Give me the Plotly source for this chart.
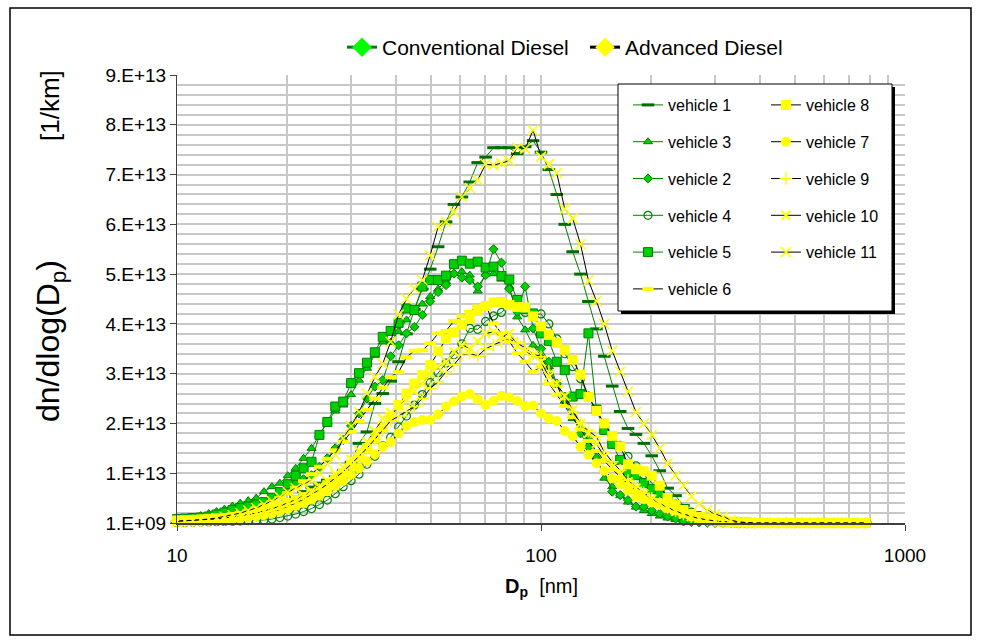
import plotly.graph_objects as go

# ---------------- data (particle diameter in nm, values in units of 1e12 per km) ----------------
dp_nm = [10.0, 10.51, 11.05, 11.62, 12.22, 12.84, 13.50, 14.20, 14.92, 15.69,
         16.50, 17.34, 18.23, 19.17, 20.15, 21.19, 22.27, 23.42, 24.62, 25.88,
         27.21, 28.61, 30.08, 31.62, 33.25, 34.95, 36.75, 38.63, 40.62, 42.70,
         44.89, 47.20, 49.62, 52.17, 54.84, 57.66, 60.62, 63.73, 67.00, 70.44,
         74.06, 77.86, 81.85, 86.05, 90.47, 95.12, 100.0, 105.1, 110.5, 116.2,
         122.2, 128.4, 135.0, 142.0, 149.2, 156.9, 165.0, 173.4, 182.3, 191.7,
         201.5, 211.9, 222.7, 234.2, 246.2, 258.8, 272.1, 286.1, 300.8, 316.2,
         332.5, 349.5, 367.5, 386.3, 406.2, 427.0, 448.9, 472.0, 496.2, 521.7,
         548.4, 576.6, 606.2, 637.3, 670.0, 704.4, 740.6, 778.6]

UNIT = 1e12

vehicle_1 = [0.2, 0.3, 0.3, 0.4, 0.5, 0.6, 0.7, 0.9, 1.1, 1.4,
             1.8, 2.2, 2.8, 3.5, 4.3, 5.3, 6.3, 7.2, 8.0, 8.6,
             9.3, 10.5, 12.2, 16.0, 18.3, 24.0, 26.0, 28.5, 32.4, 38.0,
             42.9, 47.0, 51.0, 55.5, 60.5, 64.0, 65.5, 68.5, 72.4, 73.5,
             75.4, 75.4, 75.4, 74.2, 75.6, 76.8, 74.5, 71.0, 66.0, 60.0,
             54.5, 50.0, 44.5, 39.0, 33.5, 27.5, 22.4, 19.0, 17.8, 16.0,
             13.5, 10.5, 7.0, 5.5, 3.5, 2.0, 1.0, 0.6, 0.3, 0.15,
             0.08, 0.04, 0.001, 0.001, 0.001, 0.001, 0.001, 0.001, 0.001, 0.001,
             0.001, 0.001, 0.001, 0.001, 0.001, 0.001, 0.001, 0.001]

vehicle_3 = [0.9, 1.0, 1.2, 1.5, 1.9, 2.3, 2.8, 3.4, 4.0, 4.5,
             5.0, 6.3, 7.3, 8.0, 9.5, 11.0, 13.0, 15.0, 17.7, 20.3,
             22.5, 23.7, 25.8, 28.7, 31.1, 33.7, 36.4, 36.3, 38.5, 40.8,
             42.5, 44.0, 45.5, 47.0, 48.5, 50.1, 50.5, 49.8, 46.6, 50.0,
             50.1, 49.0, 47.5, 41.4, 38.8, 35.7, 33.5, 31.4, 27.7, 24.5,
             21.0, 19.0, 17.2, 13.3, 9.0, 7.3, 5.5, 4.2, 3.2, 2.5,
             1.9, 1.4, 1.0, 0.7, 0.5, 0.3, 0.2, 0.1, 0.05, 0.001,
             0.001, 0.001, 0.001, 0.001, 0.001, 0.001, 0.001, 0.001, 0.001, 0.001,
             0.001, 0.001, 0.001, 0.001, 0.001, 0.001, 0.001, 0.001]

vehicle_2 = [0.3, 0.35, 0.4, 0.5, 0.6, 0.8, 1.0, 1.3, 1.7, 2.2,
             2.8, 3.5, 4.4, 5.5, 6.7, 8.0, 8.8, 9.6, 11.3, 13.0,
             15.0, 16.7, 19.5, 22.0, 25.0, 27.4, 28.7, 33.5, 35.7, 38.1,
             39.4, 41.8, 44.5, 46.4, 47.8, 50.1, 49.3, 48.8, 47.5, 49.8,
             55.0, 52.3, 47.0, 42.4, 47.5, 39.1, 35.0, 32.4, 28.0, 25.4,
             21.5, 18.0, 15.3, 12.0, 10.3, 6.3, 5.6, 4.6, 3.3, 3.3,
             2.5, 1.9, 1.3, 0.9, 0.3, 0.2, 0.1, 0.05, 0.001, 0.001,
             0.001, 0.001, 0.001, 0.001, 0.001, 0.001, 0.001, 0.001, 0.001, 0.001,
             0.001, 0.001, 0.001, 0.001, 0.001, 0.001, 0.001, 0.001]

vehicle_4 = [0.1, 0.1, 0.15, 0.2, 0.2, 0.25, 0.3, 0.35, 0.4, 0.45,
             0.5, 0.6, 0.8, 1.1, 1.4, 1.8, 2.3, 2.9, 3.7, 4.6,
             5.9, 7.3, 8.5, 9.8, 11.8, 13.4, 15.5, 17.2, 19.3, 21.5,
             23.7, 25.8, 28.2, 30.2, 32.1, 33.8, 36.0, 39.1, 38.9, 40.5,
             41.6, 42.3, 43.8, 43.5, 42.3, 41.8, 42.0, 40.0, 37.0, 34.0,
             31.4, 29.0, 25.5, 22.5, 20.0, 17.5, 15.6, 13.4, 11.5, 9.7,
             8.0, 6.3, 4.6, 3.8, 2.9, 2.2, 1.5, 0.9, 0.5, 0.3,
             0.2, 0.1, 0.05, 0.001, 0.001, 0.001, 0.001, 0.001, 0.001, 0.001,
             0.001, 0.001, 0.001, 0.001, 0.001, 0.001, 0.001, 0.001]

vehicle_5 = [0.8, 0.9, 1.0, 1.1, 1.3, 1.7, 2.1, 2.6, 3.0, 3.3,
             3.7, 4.2, 5.0, 6.2, 7.8, 9.5, 11.0, 12.3, 17.7, 20.3,
             23.4, 24.4, 28.1, 30.1, 32.2, 34.3, 37.4, 38.6, 40.2, 43.1,
             42.8, 47.5, 48.8, 48.8, 49.7, 52.0, 52.7, 52.1, 52.5, 51.3,
             51.5, 49.6, 48.9, 44.8, 43.0, 42.1, 38.1, 36.6, 32.4, 30.7,
             25.4, 25.9, 38.1, 22.8, 18.7, 15.9, 12.7, 10.1, 9.6, 8.0,
             6.8, 6.0, 4.3, 3.0, 2.3, 1.6, 0.9, 0.6, 0.4, 0.3,
             0.2, 0.1, 0.05, 0.001, 0.001, 0.001, 0.001, 0.001, 0.001, 0.001,
             0.001, 0.001, 0.001, 0.001, 0.001, 0.001, 0.001, 0.001]

vehicle_6 = [0.6, 0.7, 0.8, 0.9, 1.0, 1.2, 1.4, 1.7, 2.0, 2.4,
             2.9, 3.5, 4.2, 5.0, 6.0, 7.1, 8.4, 9.8, 11.3, 12.9,
             14.6, 16.3, 18.3, 20.5, 22.7, 25.0, 27.2, 29.3, 30.3, 33.3,
             34.6, 34.7, 36.1, 38.1, 38.6, 40.6, 41.5, 42.4, 43.5, 43.8,
             40.1, 38.1, 36.5, 34.1, 32.4, 30.4, 31.4, 28.0, 25.8, 23.5,
             21.3, 18.8, 16.5, 14.5, 12.5, 10.8, 9.2, 7.8, 6.5, 5.4,
             4.4, 3.5, 2.8, 2.2, 1.7, 1.2, 0.9, 0.6, 0.4, 0.3,
             0.2, 0.1, 0.05, 0.001, 0.001, 0.001, 0.001, 0.001, 0.001, 0.001,
             0.001, 0.001, 0.001, 0.001, 0.001, 0.001, 0.001, 0.001]

vehicle_8 = [0.5, 0.55, 0.6, 0.7, 0.8, 0.9, 1.0, 1.2, 1.4, 1.7,
             2.0, 2.4, 2.9, 3.4, 4.0, 4.6, 5.2, 5.8, 6.3, 7.6,
             8.7, 10.0, 11.8, 13.2, 15.0, 17.0, 19.2, 21.3, 23.7, 26.0,
             28.0, 29.7, 31.7, 34.5, 37.0, 38.3, 39.8, 41.0, 42.6, 43.6,
             44.3, 44.4, 43.8, 43.4, 43.3, 41.5, 39.5, 37.8, 36.2, 34.8,
             32.8, 29.8, 25.3, 22.5, 20.0, 17.5, 15.4, 11.8, 10.8, 10.4,
             9.5, 7.5, 5.0, 3.6, 2.6, 1.8, 1.2, 0.8, 0.5, 0.3,
             0.2, 0.1, 0.05, 0.001, 0.001, 0.001, 0.001, 0.001, 0.001, 0.001,
             0.001, 0.001, 0.001, 0.001, 0.001, 0.001, 0.001, 0.001]

vehicle_7 = [0.2, 0.25, 0.3, 0.35, 0.4, 0.5, 0.6, 0.7, 0.9, 1.1,
             1.3, 1.6, 1.9, 2.3, 2.8, 3.4, 4.0, 4.7, 5.5, 6.4,
             7.4, 8.5, 9.7, 11.0, 12.4, 13.8, 15.3, 16.3, 18.0, 19.5,
             20.3, 20.7, 20.7, 21.8, 23.4, 24.4, 25.4, 25.9, 24.8, 23.7,
             24.5, 25.5, 25.2, 24.5, 23.5, 23.6, 22.0, 21.0, 20.5, 18.5,
             17.5, 15.3, 13.7, 12.0, 10.5, 9.0, 7.8, 6.6, 5.3, 4.8,
             4.1, 3.8, 3.0, 2.5, 1.9, 1.3, 0.9, 0.6, 0.4, 0.3,
             0.2, 0.1, 0.05, 0.001, 0.001, 0.001, 0.001, 0.001, 0.001, 0.001,
             0.001, 0.001, 0.001, 0.001, 0.001, 0.001, 0.001, 0.001]

vehicle_9 = [0.3, 0.35, 0.4, 0.45, 0.5, 0.6, 0.7, 0.85, 1.0, 1.2,
             1.5, 1.8, 2.2, 2.7, 3.3, 4.0, 4.8, 5.7, 6.7, 7.8,
             9.0, 10.3, 11.8, 13.3, 15.0, 16.8, 18.6, 20.5, 21.5, 22.4,
             23.4, 25.0, 27.0, 28.4, 30.4, 31.8, 33.7, 34.1, 33.5, 35.0,
             35.7, 36.5, 37.0, 36.1, 35.2, 34.0, 33.4, 30.5, 27.5, 24.8,
             22.4, 20.0, 18.5, 17.3, 14.3, 12.3, 10.6, 8.6, 7.2, 6.0,
             4.9, 3.9, 3.1, 2.4, 1.8, 1.3, 0.9, 0.6, 0.4, 0.3,
             0.2, 0.1, 0.05, 0.001, 0.001, 0.001, 0.001, 0.001, 0.001, 0.001,
             0.001, 0.001, 0.001, 0.001, 0.001, 0.001, 0.001, 0.001]

vehicle_10 = [0.4, 0.45, 0.5, 0.6, 0.7, 0.8, 1.0, 1.2, 1.4, 1.7,
              2.0, 2.4, 2.9, 3.4, 4.0, 4.7, 5.5, 6.4, 7.4, 8.5,
              9.8, 11.2, 12.8, 14.5, 16.3, 18.5, 21.0, 22.2, 23.8, 24.7,
              26.5, 28.0, 30.0, 31.4, 32.4, 34.4, 35.7, 35.1, 36.5, 38.1,
              38.4, 37.4, 38.1, 35.7, 34.4, 33.7, 32.4, 29.4, 28.0, 25.5,
              22.7, 20.0, 18.0, 16.0, 13.3, 11.3, 9.8, 8.3, 7.0, 5.8,
              4.8, 3.9, 3.1, 2.4, 1.8, 1.3, 0.9, 0.6, 0.4, 0.3,
              0.2, 0.1, 0.05, 0.001, 0.001, 0.001, 0.001, 0.001, 0.001, 0.001,
              0.001, 0.001, 0.001, 0.001, 0.001, 0.001, 0.001, 0.001]

vehicle_11 = [0.3, 0.4, 0.5, 0.6, 0.8, 1.0, 1.3, 1.6, 2.0, 2.5,
              3.0, 3.7, 4.4, 5.2, 6.2, 7.0, 7.8, 8.6, 10.0, 11.8,
              13.7, 17.0, 19.5, 22.3, 26.0, 29.3, 32.0, 36.4, 41.9, 45.0,
              47.1, 48.8, 53.8, 59.5, 60.5, 62.5, 65.5, 67.3, 68.9, 72.1,
              71.9, 72.3, 72.8, 75.4, 75.2, 78.9, 73.6, 72.1, 70.3, 63.1,
              61.2, 56.0, 48.7, 44.6, 40.0, 34.6, 30.4, 26.4, 22.3, 20.0,
              17.7, 15.0, 12.0, 9.6, 7.6, 5.3, 3.8, 2.6, 1.8, 1.3,
              0.6, 0.2, 0.05, 0.001, 0.001, 0.001, 0.001, 0.001, 0.001, 0.001,
              0.001, 0.001, 0.001, 0.001, 0.001, 0.001, 0.001, 0.001]

y_tick_vals = [1e9, 1e13, 2e13, 3e13, 4e13, 5e13, 6e13, 7e13, 8e13, 9e13]
y_tick_text = ["1.E+09", "1.E+13", "2.E+13", "3.E+13", "4.E+13", "5.E+13",
               "6.E+13", "7.E+13", "8.E+13", "9.E+13"]
x_tick_vals = [10, 100, 1000]
x_tick_text = ["10", "100", "1000"]

# ---------------- styling ----------------
FONT = "Liberation Sans, Arial, sans-serif"
CONV_LINE = "#008000"
ADV_LINE = "#000000"
GREEN_FILL = "#00D000"
DARK_GREEN = "#006E00"
YELLOW = "#FFFF00"

series = [
    ("vehicle 1", vehicle_1, "legend", CONV_LINE,
     dict(symbol="line-ew", size=9, color=DARK_GREEN, line=dict(width=3, color=DARK_GREEN))),
    ("vehicle 3", vehicle_3, "legend", CONV_LINE,
     dict(symbol="triangle-up", size=8, color=GREEN_FILL, line=dict(width=1, color=CONV_LINE))),
    ("vehicle 2", vehicle_2, "legend", CONV_LINE,
     dict(symbol="diamond", size=7, color=GREEN_FILL, line=dict(width=1, color=CONV_LINE))),
    ("vehicle 4", vehicle_4, "legend", CONV_LINE,
     dict(symbol="circle-open", size=8, color=CONV_LINE, line=dict(width=1.2, color=CONV_LINE))),
    ("vehicle 5", vehicle_5, "legend", CONV_LINE,
     dict(symbol="square", size=9, color=GREEN_FILL, line=dict(width=1, color=CONV_LINE))),
    ("vehicle 6", vehicle_6, "legend", ADV_LINE,
     dict(symbol="line-ew", size=8, color=YELLOW, line=dict(width=4, color=YELLOW))),
    ("vehicle 8", vehicle_8, "legend2", ADV_LINE,
     dict(symbol="square", size=10, color=YELLOW, line=dict(width=0, color=YELLOW))),
    ("vehicle 7", vehicle_7, "legend2", ADV_LINE,
     dict(symbol="circle", size=10, color=YELLOW, line=dict(width=0, color=YELLOW))),
    ("vehicle 9", vehicle_9, "legend2", ADV_LINE,
     dict(symbol="cross-thin", size=9, color=YELLOW, line=dict(width=1.5, color=YELLOW))),
    ("vehicle 10", vehicle_10, "legend2", ADV_LINE,
     dict(symbol="x-thin", size=9, color=YELLOW, line=dict(width=2, color=YELLOW))),
    ("vehicle 11", vehicle_11, "legend2", ADV_LINE,
     dict(symbol="x-thin", size=10, color=YELLOW, line=dict(width=1.5, color=YELLOW))),
]

fig = go.Figure()
for name, vals, leg, lcol, mk in series:
    fig.add_trace(go.Scatter(
        x=dp_nm, y=[v * UNIT for v in vals], mode="lines+markers", name=name,
        line=dict(color=lcol, width=1), marker=mk, legend=leg, legendgroup=name,
        cliponaxis=False, hoverinfo="skip"))

# legend-only entries for the top legend
fig.add_trace(go.Scatter(x=[None], y=[None], mode="lines+markers", name="Conventional Diesel",
                         line=dict(color=CONV_LINE, width=3),
                         marker=dict(symbol="diamond", size=15, color="#00FF00", line=dict(width=0)),
                         legend="legend3"))
fig.add_trace(go.Scatter(x=[None], y=[None], mode="lines+markers", name="Advanced Diesel",
                         line=dict(color=ADV_LINE, width=3),
                         marker=dict(symbol="diamond", size=15, color=YELLOW, line=dict(width=0)),
                         legend="legend4"))

L, R, T, B = 177, 77, 75, 118
W, H = 982, 641
PW, PH = W - L - R, H - T - B


def px(xp):
    return (xp - L) / PW


def py(yp):
    return (H - B - yp) / PH


GRID = "#c8c8c8"
top_leg = dict(yanchor="top", xanchor="left", bgcolor="rgba(0,0,0,0)", borderwidth=0,
               font=dict(size=21))
veh_leg = dict(yanchor="top", xanchor="left", bgcolor="rgba(0,0,0,0)", borderwidth=0,
               font=dict(size=16), tracegroupgap=13)

fig.update_layout(
    width=W, height=H,
    margin=dict(l=L, r=R, t=T, b=B, pad=0),
    paper_bgcolor="white", plot_bgcolor="white",
    font=dict(family=FONT, size=19, color="black"),
    xaxis=dict(type="log", range=[1, 3], tickmode="array", tickvals=x_tick_vals,
               ticktext=x_tick_text, showgrid=True, gridcolor=GRID, gridwidth=1.5,
               minor=dict(dtick="D1", showgrid=True, gridcolor=GRID, gridwidth=1.5),
               showline=True, linecolor="#404040", linewidth=2, ticks="outside",
               ticklen=6, tickcolor="#404040", ticklabelstandoff=8, zeroline=False),
    yaxis=dict(range=[1e9, 9e13], tickmode="array", tickvals=y_tick_vals,
               ticktext=y_tick_text, showgrid=True, gridcolor=GRID, gridwidth=1.5,
               minor=dict(tick0=0, dtick=2e12, showgrid=True, gridcolor=GRID, gridwidth=1.5),
               showline=True, linecolor="#404040", linewidth=1, ticks="outside",
               ticklen=6, tickcolor="#404040", zeroline=False),
    legend=dict(x=px(628), y=py(88), **veh_leg),
    legend2=dict(x=px(766), y=py(88), **veh_leg),
    legend3=dict(x=px(342), y=py(27), **top_leg),
    legend4=dict(x=px(585), y=py(27), **top_leg),
    shapes=[
        dict(type="rect", xref="paper", yref="paper", x0=px(10), x1=px(971),
             y0=py(635), y1=py(8), line=dict(color="black", width=1.5), layer="below"),
        dict(type="rect", xref="paper", yref="paper", x0=px(621), x1=px(895),
             y0=py(314), y1=py(87), fillcolor="black", line=dict(width=0), layer="above"),
        dict(type="rect", xref="paper", yref="paper", x0=px(618), x1=px(892),
             y0=py(311), y1=py(84), fillcolor="white", line=dict(color="black", width=1),
             layer="above"),
    ],
    annotations=[
        dict(text="dn/dlog(D<sub>p</sub>)", xref="paper", yref="paper", x=px(50), y=py(341),
             textangle=-90, showarrow=False, font=dict(size=32), xanchor="center",
             yanchor="middle"),
        dict(text="[1/km]", xref="paper", yref="paper", x=px(50), y=py(106),
             textangle=-90, showarrow=False, font=dict(size=26), xanchor="center",
             yanchor="middle"),
        dict(text="<b>D<sub>p</sub></b>\u00a0\u00a0[nm]", xref="paper", yref="paper",
             x=px(541), y=py(587), showarrow=False, font=dict(size=20), xanchor="center",
             yanchor="middle"),
    ],
)

fig.write_html("out.html")
